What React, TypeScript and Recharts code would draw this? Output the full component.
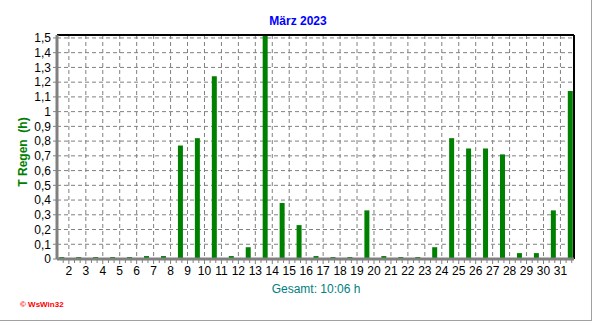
import React from "react";
import {
  BarChart,
  Bar,
  XAxis,
  YAxis,
  CartesianGrid,
  ReferenceLine,
} from "recharts";

// Rain duration per day, March 2023 (hours)
const days: number[] = Array.from({ length: 31 }, (_, i) => i + 1);
const rainHours: number[] = [
  0, 0, 0, 0, 0, 0.02, 0.02, 0.77, 0.82, 1.24,
  0.02, 0.08, 1.52, 0.38, 0.23, 0.02, 0, 0, 0.33, 0.02,
  0, 0, 0.08, 0.82, 0.75, 0.75, 0.71, 0.04, 0.04, 0.33,
  1.14,
];
const xTicks: number[] = days.slice(1); // 2..31, drawn at day boundaries
const yTicks: number[] = [0, 0.1, 0.2, 0.3, 0.4, 0.5, 0.6, 0.7, 0.8, 0.9, 1, 1.1, 1.2, 1.3, 1.4, 1.5];

const title = "März 2023";
const yLabel = "T Regen\u00a0\u00a0(h)";
const total = "Gesamt: 10:06 h";

// bars sit between boundary n and n+1
const BAR_SHIFT = 0.58;
const data = days.map((d, i) => ({ x: d + BAR_SHIFT, v: rainHours[i] }));

const X_DOMAIN: [number, number] = [1.3, 31.8];
const PLOT_LEFT = 57;
const PLOT_RIGHT = 574;
const AXIS_Y = 259;
const DAY_PX = (PLOT_RIGHT - PLOT_LEFT) / (X_DOMAIN[1] - X_DOMAIN[0]);

const FONT = "'Liberation Sans', Arial, sans-serif";

const fmt = (v: number) => (Number.isInteger(v) ? String(v) : v.toFixed(1).replace(".", ","));

const XTick = (props: any) => {
  const { x, payload } = props;
  const minors = [DAY_PX / 3, (2 * DAY_PX) / 3];
  if (payload.value === 2) minors.push(-DAY_PX / 3);
  return (
    <g>
      <line x1={x} x2={x} y1={AXIS_Y} y2={AXIS_Y + 5} stroke="#808080" />
      {minors.map((m, i) => (
        <line key={i} x1={x + m} x2={x + m} y1={AXIS_Y} y2={AXIS_Y + 4} stroke="#808080" />
      ))}
      <text x={x} y={AXIS_Y + 16} textAnchor="middle" fontSize={12} fontFamily={FONT} fill="#000">
        {payload.value}
      </text>
    </g>
  );
};

export default function App() {
  return (
    <div style={{ position: "absolute", left: 0, top: 0, width: 592, height: 321, background: "#fff", fontFamily: FONT }}>
      <BarChart
        width={592}
        height={321}
        data={data}
        margin={{ top: 35, right: 592 - PLOT_RIGHT, left: PLOT_LEFT - 40, bottom: 321 - AXIS_Y - 30 }}
      >
        <CartesianGrid stroke="#808080" strokeDasharray="4 3" />
        <XAxis
          type="number"
          dataKey="x"
          domain={X_DOMAIN}
          allowDataOverflow
          ticks={xTicks}
          interval={0}
          height={30}
          tickLine={false}
          axisLine={{ stroke: "#808080", strokeWidth: 3 }}
          tick={<XTick />}
        />
        <YAxis
          type="number"
          domain={[0, 1.52]}
          allowDataOverflow
          ticks={yTicks}
          interval={0}
          width={40}
          tickSize={4}
          tickMargin={2}
          tickFormatter={fmt}
          tickLine={{ stroke: "#808080" }}
          axisLine={{ stroke: "#808080", strokeWidth: 3 }}
          tick={{ fontSize: 12, fill: "#000", fontFamily: FONT }}
        />
        <ReferenceLine y={1.52} stroke="#000" strokeWidth={2} />
        <ReferenceLine x={X_DOMAIN[1]} stroke="#000" strokeWidth={2} />
        <Bar dataKey="v" fill="#008000" barSize={5} minPointSize={2} isAnimationActive={false} />
      </BarChart>

      <div style={{ position: "absolute", left: 0, width: 596, top: 14, textAlign: "center", color: "#0000ff", fontWeight: "bold", fontSize: 12, lineHeight: "14px" }}>
        {title}
      </div>
      <div
        style={{
          position: "absolute",
          left: 23 - 60,
          top: 152 - 7,
          width: 120,
          textAlign: "center",
          color: "#008000",
          fontWeight: "bold",
          fontSize: 12,
          lineHeight: "14px",
          transform: "rotate(-90deg)",
        }}
      >
        {yLabel}
      </div>
      <div style={{ position: "absolute", left: 216, width: 200, top: 282, textAlign: "center", color: "#008080", fontSize: 12, lineHeight: "14px" }}>
        {total}
      </div>
      <div style={{ position: "absolute", left: 20, top: 300, color: "#ff0000", fontWeight: "bold", fontSize: 8, lineHeight: "10px" }}>
        © WsWin32
      </div>
      <div style={{ position: "absolute", left: 0, top: 0, width: 592, height: 321, boxSizing: "border-box", borderRight: "1px solid #a0a0a0", borderBottom: "1px solid #a0a0a0", pointerEvents: "none" }} />
    </div>
  );
}
